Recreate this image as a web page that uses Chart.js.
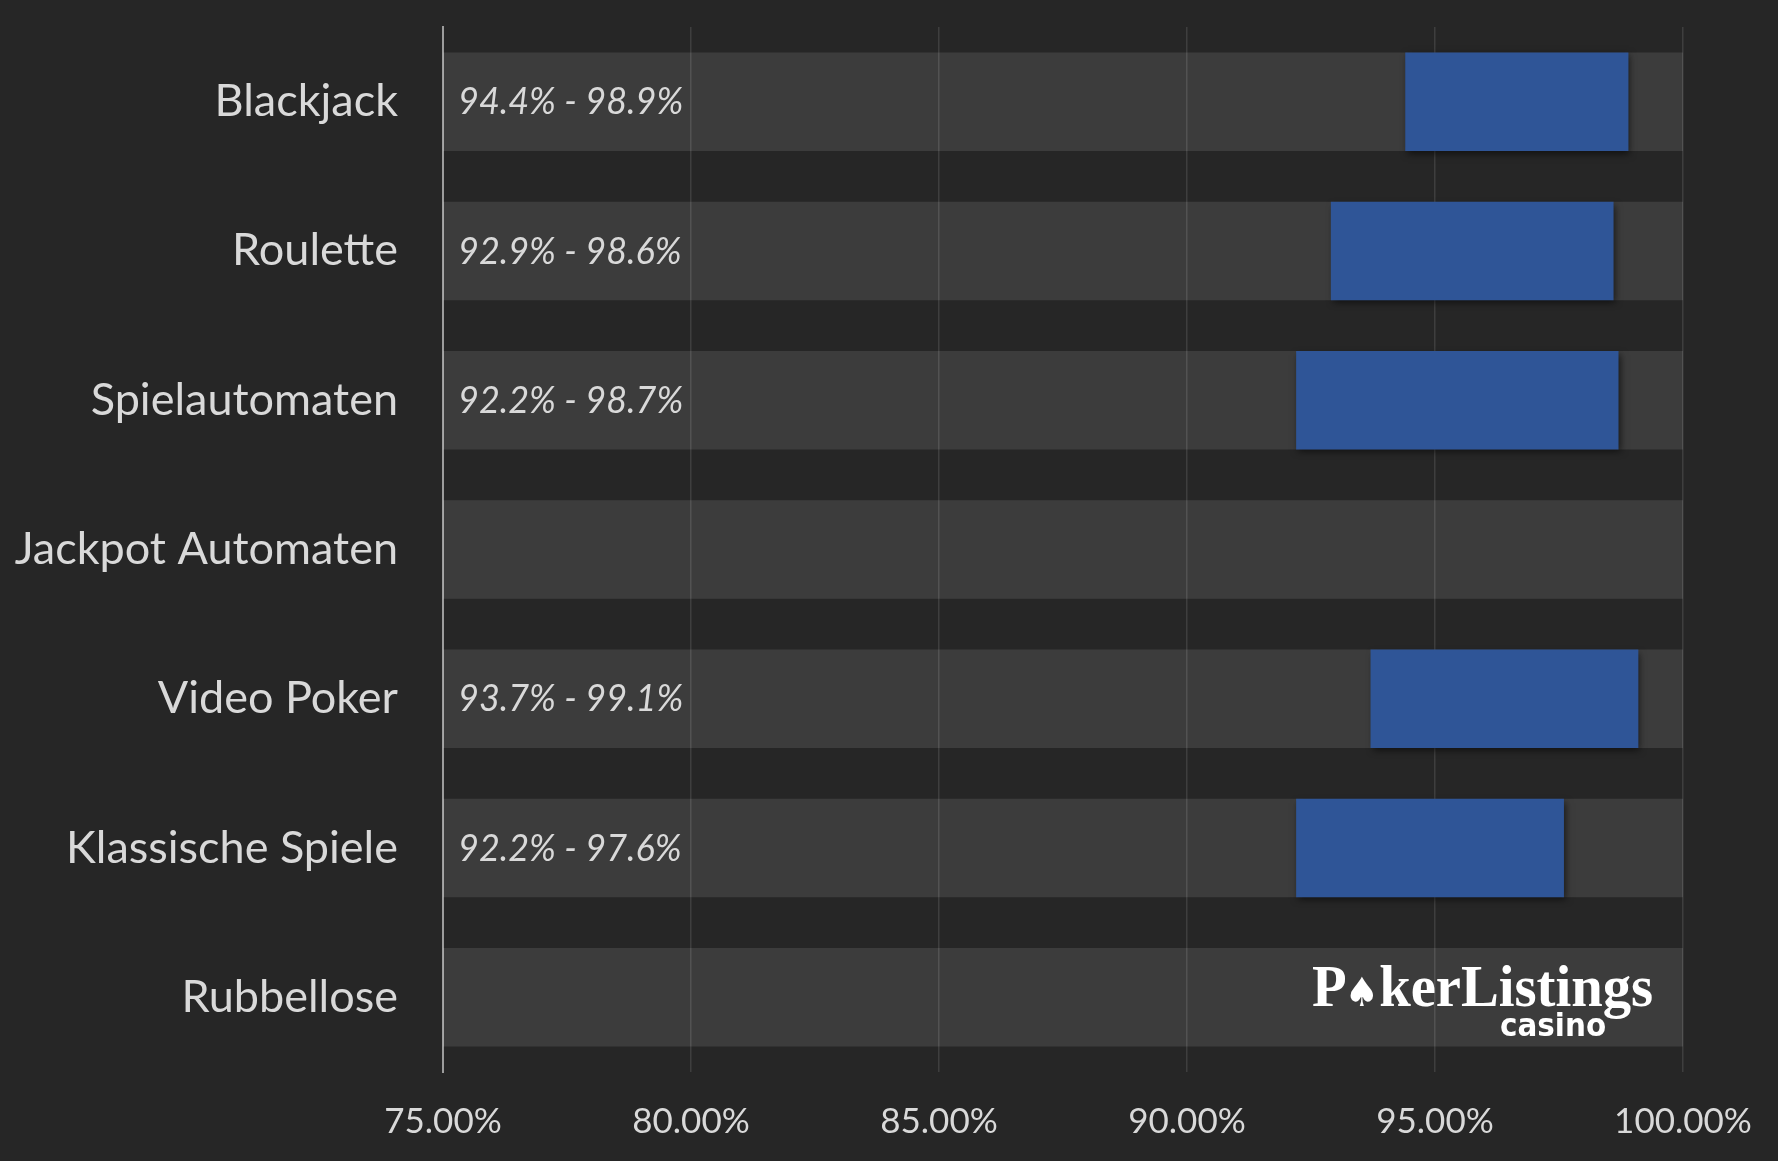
<!DOCTYPE html>
<html lang="de">
<head>
    <meta charset="UTF-8">
    <title>Auszahlungsquoten</title>
    <style>
        html, body { margin: 0; padding: 0; background: #262626; }
        #wrap { width: 1778px; height: 1161px; position: relative; }
    </style>
</head>
<body>
    <div id="wrap"><canvas id="rtpChart"></canvas></div>

    <script src="https://cdn.jsdelivr.net/npm/chart.js"></script>
    <script>
        // Kategorien und Werte
        const categories = ['Blackjack', 'Roulette', 'Spielautomaten', 'Jackpot Automaten', 'Video Poker', 'Klassische Spiele', 'Rubbellose'];
        const rtpMin = [94.4, 92.9, 92.2, null, 93.7, 92.2, null];
        const rtpMax = [98.9, 98.6, 98.7, null, 99.1, 97.6, null];
        const axisMin = 75;
        const axisMax = 100;
        const axisStep = 5;

        const textColor = '#d9d9d9';

        // Schatten unter den blauen Balken
        const shadowPlugin = {
            id: 'barShadow',
            beforeDatasetDraw(chart, args) {
                if (args.index !== 0) return;
                const ctx = chart.ctx;
                ctx.save();
                ctx.shadowColor = 'rgba(0,0,0,0.55)';
                ctx.shadowBlur = 7;
                ctx.shadowOffsetX = 2;
                ctx.shadowOffsetY = 3;
            },
            afterDatasetDraw(chart, args) {
                if (args.index !== 0) return;
                chart.ctx.restore();
            }
        };

        // Beschriftung "xx% - yy%" links in den Balken
        const rangeLabels = {
            id: 'rangeLabels',
            afterDatasetsDraw(chart) {
                const ctx = chart.ctx;
                const y = chart.scales.y;
                ctx.save();
                ctx.font = 'italic 36px Lato';
                ctx.fillStyle = textColor;
                ctx.textAlign = 'left';
                ctx.textBaseline = 'middle';
                categories.forEach((c, i) => {
                    if (rtpMin[i] == null) return;
                    ctx.fillText(`${rtpMin[i]}% - ${rtpMax[i]}%`, chart.chartArea.left + 15, y.getPixelForValue(i) + 1);
                });
                ctx.restore();
            }
        };

        // Logo unten rechts
        const logo = {
            id: 'logo',
            afterDraw(chart) {
                const ctx = chart.ctx;
                const serif = 'bold 59px "Liberation Serif"';
                const spadeFont = 'bold 40px "DejaVu Sans"';
                ctx.save();
                ctx.fillStyle = '#ffffff';
                ctx.textBaseline = 'alphabetic';
                ctx.textAlign = 'left';
                ctx.font = serif;
                const wP = ctx.measureText('P').width;
                const wRest = ctx.measureText('kerListings').width;
                ctx.font = spadeFont;
                const wS = ctx.measureText('\u2660').width;
                const total = wP + wS + wRest;
                const x0 = 1312, base = 1006;
                const sx = 343 / total;
                ctx.translate(x0, base);
                ctx.scale(sx, 1);
                ctx.font = serif;
                ctx.fillText('P', 0, 0);
                ctx.font = spadeFont;
                ctx.fillText('\u2660', wP - 2, 0);
                ctx.font = serif;
                ctx.fillText('kerListings', wP + wS - 2, 0);
                ctx.restore();

                ctx.save();
                ctx.fillStyle = '#ffffff';
                ctx.font = 'bold 32px "DejaVu Sans"';
                ctx.textAlign = 'left';
                ctx.translate(1500, 1036);
                ctx.scale(0.92, 1);
                ctx.fillText('casino', 0, 0);
                ctx.restore();
            }
        };

        function createChart() {
            const ctx = document.getElementById('rtpChart').getContext('2d');
            new Chart(ctx, {
                type: 'bar',
                data: {
                    labels: categories,
                    datasets: [
                        {
                            label: 'Auszahlungsquote',
                            data: rtpMin.map((v, i) => v == null ? null : [v, rtpMax[i]]),
                            backgroundColor: '#2f5597',
                            grouped: false,
                            order: 0,
                            categoryPercentage: 1,
                            barPercentage: 0.66
                        },
                        {
                            label: 'Hintergrund',
                            data: categories.map(() => [axisMin, axisMax]),
                            backgroundColor: 'rgba(255,255,255,0.106)',
                            grouped: false,
                            order: 1,
                            categoryPercentage: 1,
                            barPercentage: 0.66
                        }
                    ]
                },
                options: {
                    indexAxis: 'y',
                    responsive: true,
                    maintainAspectRatio: false,
                    animation: false,
                    layout: { padding: { top: 27, right: 95, left: 0, bottom: 0 } },
                    plugins: {
                        legend: { display: false },
                        tooltip: { enabled: false }
                    },
                    scales: {
                        x: {
                            min: axisMin,
                            max: axisMax,
                            afterFit: s => { s.height = 89; s.paddingLeft = 0; s.paddingRight = 0; },
                            border: { display: false },
                            grid: {
                                drawTicks: false,
                                lineWidth: 1.5,
                                color: c => c.tick && c.tick.value === axisMin ? 'rgba(0,0,0,0)' : '#3e3e3e'
                            },
                            ticks: {
                                stepSize: axisStep,
                                padding: 29,
                                color: textColor,
                                font: { family: 'Lato', size: 35 },
                                callback: v => v.toFixed(2) + '%'
                            }
                        },
                        y: {
                            afterFit: s => { s.width = 443; s.paddingTop = 0; s.paddingBottom = 0; },
                            border: { display: true, color: '#9c9c9c', width: 2 },
                            grid: { display: false, drawTicks: false },
                            ticks: {
                                padding: 45,
                                color: textColor,
                                font: { family: 'Lato', size: 45 }
                            }
                        }
                    }
                },
                plugins: [shadowPlugin, rangeLabels, logo]
            });
        }

        window.onload = createChart;
    </script>
</body>
</html>
